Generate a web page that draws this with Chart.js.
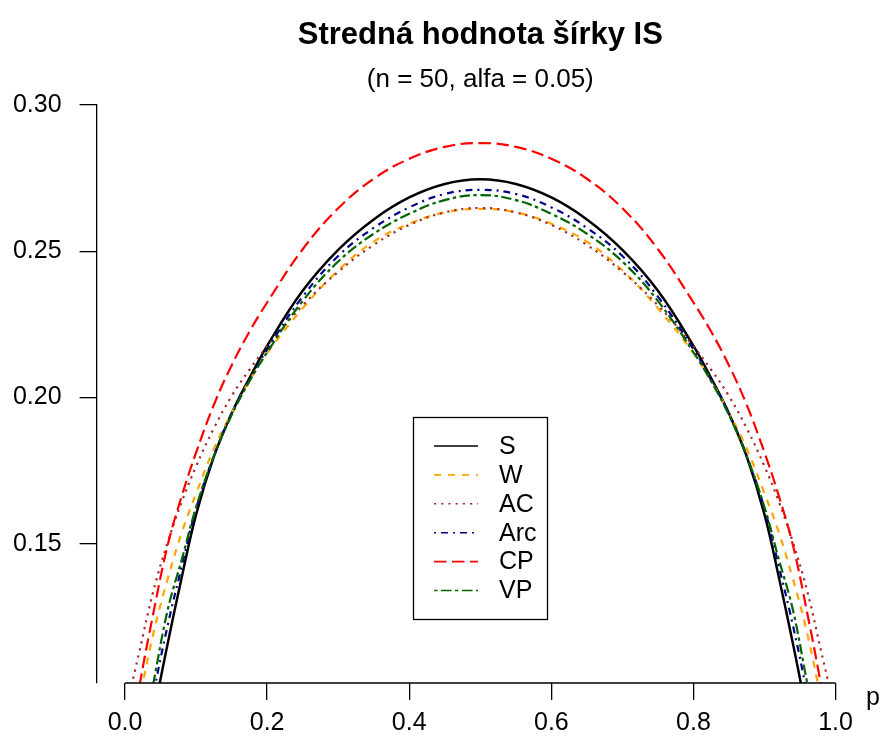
<!DOCTYPE html>
<html>
<head>
<meta charset="utf-8">
<script src="https://cdn.jsdelivr.net/npm/chart.js"></script>
<style>
  html, body { margin: 0; padding: 0; background: #fff; }
  #wrap { width: 880px; height: 744px; }
</style>
</head>
<body>
<div id="wrap"><canvas id="widthChart" width="880" height="744"></canvas></div>
<script>
const pValues = [0, 0.02, 0.04, 0.06, 0.08, 0.1, 0.125, 0.15, 0.175, 0.2, 0.25, 0.3, 0.35, 0.4, 0.45, 0.5,
                 0.55, 0.6, 0.65, 0.7, 0.75, 0.8, 0.825, 0.85, 0.875, 0.9, 0.92, 0.94, 0.96, 0.98, 1];

// expected width of the interval for each method
const sWidth   = [0.000, 0.062, 0.091, 0.1159, 0.1388, 0.1600, 0.1798, 0.1946, 0.2066, 0.2177, 0.2365, 0.2505, 0.2609, 0.2684, 0.2730, 0.2746,
                  0.2730, 0.2684, 0.2609, 0.2505, 0.2365, 0.2177, 0.2066, 0.1946, 0.1798, 0.1600, 0.1388, 0.1159, 0.091, 0.062, 0.000];
const wWidth   = [0.0713, 0.0962, 0.1195, 0.1380, 0.1540, 0.1672, 0.1825, 0.1948, 0.2057, 0.2152, 0.2305, 0.2435, 0.2533, 0.2594, 0.2633, 0.2645,
                  0.2633, 0.2594, 0.2533, 0.2435, 0.2305, 0.2152, 0.2057, 0.1948, 0.1825, 0.1672, 0.1540, 0.1380, 0.1195, 0.0962, 0.0713];
const acWidth  = [0.092, 0.113, 0.1340, 0.1505, 0.1645, 0.1765, 0.1895, 0.2005, 0.2095, 0.2175, 0.2315, 0.2430, 0.2522, 0.2590, 0.2633, 0.2648,
                  0.2633, 0.2590, 0.2522, 0.2430, 0.2315, 0.2175, 0.2095, 0.2005, 0.1895, 0.1765, 0.1645, 0.1505, 0.1340, 0.113, 0.092];
const arcWidth = [0.000, 0.068, 0.0982, 0.1221, 0.1424, 0.1620, 0.1800, 0.1946, 0.2060, 0.2165, 0.2345, 0.2484, 0.2580, 0.2650, 0.2696, 0.2710,
                  0.2696, 0.2650, 0.2580, 0.2484, 0.2345, 0.2165, 0.2060, 0.1946, 0.1800, 0.1620, 0.1424, 0.1221, 0.0982, 0.068, 0.000];
const cpWidth  = [0.0711, 0.1010, 0.1265, 0.1495, 0.1665, 0.1812, 0.1975, 0.2110, 0.2225, 0.2325, 0.2507, 0.2647, 0.2748, 0.2816, 0.2857, 0.2870,
                  0.2857, 0.2816, 0.2748, 0.2647, 0.2507, 0.2325, 0.2225, 0.2110, 0.1975, 0.1812, 0.1665, 0.1495, 0.1265, 0.1010, 0.0711];
const vpWidth  = [0.050, 0.078, 0.1025, 0.1274, 0.1448, 0.1625, 0.1800, 0.1940, 0.2055, 0.2155, 0.2330, 0.2465, 0.2560, 0.2628, 0.2675, 0.2692,
                  0.2675, 0.2628, 0.2560, 0.2465, 0.2330, 0.2155, 0.2055, 0.1940, 0.1800, 0.1625, 0.1448, 0.1274, 0.1025, 0.078, 0.050];

const seriesNames = ['S', 'W', 'AC', 'Arc', 'CP', 'VP'];
const xTicks = [0, 0.2, 0.4, 0.6, 0.8, 1.0];
const yTicks = [0.15, 0.20, 0.25, 0.30];

const titleText = 'Stredná hodnota šírky IS';
const subtitleText = '(n = 50, alfa = 0.05)';

const FONT = "'Liberation Sans', Arial, Helvetica, sans-serif";

function points(vals) {
    return pValues.map((p, i) => ({ x: p, y: vals[i] }));
}

function makeSet(label, vals, color, dash, width, order) {
    return {
        label: label,
        data: points(vals),
        borderColor: color,
        borderWidth: width,
        borderDash: dash,
        borderCapStyle: 'butt',
        pointRadius: 0,
        fill: false,
        tension: 0.4,
        clip: 0,
        order: order
    };
}

const datasets = [
    makeSet(seriesNames[0], sWidth,   '#000000', [],               2.5, 6),
    makeSet(seriesNames[1], wWidth,   '#FFA500', [7, 7],           2.2, 5),
    makeSet(seriesNames[2], acWidth,  '#A52A2A', [2.2, 5],         2.2, 4),
    makeSet(seriesNames[3], arcWidth, '#00008B', [2, 5, 7, 5],     2.2, 3),
    makeSet(seriesNames[4], cpWidth,  '#FF0000', [12.5, 5.5],      2.2, 2),
    makeSet(seriesNames[5], vpWidth,  '#006400', [3.5, 3.5, 10.5, 3.5], 2.2, 1)
];

// title, subtitle, x axis line, axis label and the boxed legend (R style)
const decorPlugin = {
    id: 'decor',
    afterDraw(chart) {
        const ctx = chart.ctx;
        const area = chart.chartArea;
        const xs = chart.scales.x;
        ctx.save();
        ctx.fillStyle = '#000';
        ctx.textAlign = 'center';
        ctx.textBaseline = 'alphabetic';
        ctx.font = 'bold 31px ' + FONT;
        const cx = (area.left + area.right) / 2;
        ctx.fillText(titleText, cx, 44);
        ctx.font = '26px ' + FONT;
        ctx.fillText(subtitleText, cx, 87);

        // x axis line only between first and last tick
        ctx.strokeStyle = '#000';
        ctx.lineWidth = 1.3;
        ctx.beginPath();
        ctx.moveTo(xs.getPixelForValue(xTicks[0]), area.bottom);
        ctx.lineTo(xs.getPixelForValue(xTicks[xTicks.length - 1]), area.bottom);
        ctx.stroke();

        ctx.font = '25px ' + FONT;
        ctx.textAlign = 'left';
        ctx.fillText('p', 866, 705);

        // legend
        const bx = 413.5, by = 417.5, bw = 134, bh = 202;
        ctx.strokeRect(bx, by, bw, bh);
        const rowY0 = 446, rowStep = 28.9;
        chart.data.datasets.forEach((ds, i) => {
            const y = rowY0 + i * rowStep;
            ctx.strokeStyle = ds.borderColor;
            ctx.lineWidth = 1.6;
            ctx.setLineDash(ds.borderDash);
            ctx.beginPath();
            ctx.moveTo(434, y);
            ctx.lineTo(478, y);
            ctx.stroke();
            ctx.setLineDash([]);
            ctx.fillStyle = '#000';
            ctx.textBaseline = 'middle';
            ctx.fillText(ds.label, 499, y + 1);
        });
        ctx.restore();
    }
};

const ctx = document.getElementById('widthChart').getContext('2d');
const widthChart = new Chart(ctx, {
    type: 'line',
    data: { datasets: datasets },
    plugins: [decorPlugin],
    options: {
        responsive: false,
        animation: false,
        devicePixelRatio: 1,
        layout: { padding: { top: 105, right: 16, left: 0, bottom: 0 } },
        plugins: {
            legend: { display: false },
            title: { display: false },
            tooltip: { enabled: false }
        },
        scales: {
            x: {
                type: 'linear',
                min: -0.04,
                max: 1.04,
                afterBuildTicks: (scale) => { scale.ticks = xTicks.map(v => ({ value: v })); },
                afterFit: (scale) => { scale.height = 61; },
                ticks: {
                    callback: (v) => Number(v).toFixed(1),
                    font: { family: FONT, size: 25 },
                    color: '#000',
                    padding: 8,
                    maxRotation: 0,
                    autoSkip: false
                },
                grid: { drawOnChartArea: false, drawTicks: true, tickLength: 17, color: '#000', lineWidth: 1.3 },
                border: { display: false }
            },
            y: {
                type: 'linear',
                min: 0.10246,
                max: 0.30,
                afterBuildTicks: (scale) => { scale.ticks = yTicks.map(v => ({ value: v })); },
                afterFit: (scale) => { scale.width = 96.6; },
                ticks: {
                    callback: (v) => Number(v).toFixed(2),
                    font: { family: FONT, size: 25 },
                    color: '#000',
                    padding: 18,
                    autoSkip: false
                },
                grid: { drawOnChartArea: false, drawTicks: true, tickLength: 17, color: '#000', lineWidth: 1.3 },
                border: { display: true, color: '#000', width: 1.3 }
            }
        }
    }
});
</script>
</body>
</html>
